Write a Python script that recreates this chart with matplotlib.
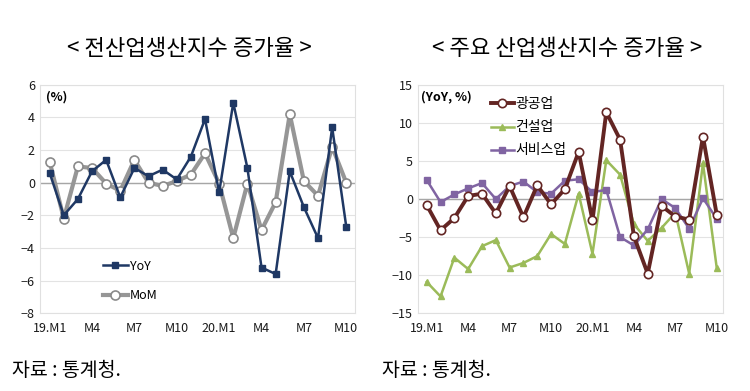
import matplotlib
matplotlib.use("Agg")
import matplotlib.pyplot as plt
import numpy as np

plt.rcParams['font.family'] = ['Noto Sans CJK KR', 'DejaVu Sans']

months = ["19.M1", "M2", "M3", "M4", "M5", "M6", "M7", "M8", "M9", "M10", "M11", "M12",
          "20.M1", "M2", "M3", "M4", "M5", "M6", "M7", "M8", "M9", "M10"]
tick_idx = [0, 3, 6, 9, 12, 15, 18, 21]

# left panel: all-industry production index
yoy = [0.6, -2.0, -1.0, 0.7, 1.4, -0.9, 0.9, 0.4, 0.8, 0.2, 1.6, 3.9,
       -0.6, 4.9, 0.9, -5.2, -5.6, 0.7, -1.5, -3.4, 3.4, -2.7]
mom = [1.3, -2.2, 1.0, 0.9, -0.05, -0.5, 1.4, 0.0, -0.2, 0.1, 0.5, 1.8,
       -0.05, -3.4, -0.05, -2.9, -1.2, 4.2, 0.1, -0.8, 2.2, 0.0]

# right panel: main industries (YoY)
mining = [-0.8, -4.1, -2.5, 0.4, 0.7, -1.9, 1.7, -2.4, 1.8, -0.7, 1.3, 6.2,
          -2.8, 11.4, 7.8, -4.9, -9.8, -0.9, -2.3, -2.7, 8.2, -2.1]
constr = [-10.9, -12.8, -7.7, -9.2, -6.2, -5.4, -9.0, -8.4, -7.5, -4.6, -5.9, 0.7,
          -7.2, 5.1, 3.2, -3.3, -5.5, -3.8, -1.8, -9.8, 4.7, -9.1]
service = [2.5, -0.4, 0.6, 1.4, 2.1, 0.0, 1.7, 2.3, 0.9, 0.7, 2.4, 2.6,
           0.9, 1.2, -5.0, -6.1, -4.0, 0.0, -1.2, -3.9, 0.1, -2.6]

x = np.arange(len(months))

fig = plt.figure(figsize=(7.5, 3.91), dpi=100)
ax1 = fig.add_axes([0.053, 0.199, 0.42, 0.584])
ax2 = fig.add_axes([0.557, 0.199, 0.407, 0.584])


def style(ax, ylim, step):
    ax.set_ylim(*ylim)
    ax.set_yticks(np.arange(ylim[0], ylim[1] + 0.1, step))
    ax.set_xticks(x[tick_idx])
    ax.set_xticklabels([months[i] for i in tick_idx])
    ax.grid(axis='y', color='#e3e3e3', linewidth=0.8)
    ax.axhline(0, color='#a6a6a6', linewidth=1, zorder=1)
    ax.set_axisbelow(True)
    for s in ax.spines.values():
        s.set_color('#e0e0e0')
        s.set_linewidth(0.8)
    ax.tick_params(length=0, labelsize=9, colors='#1a1a1a')
    ax.tick_params(axis='x', pad=6)


# left chart
ax1.plot(x, yoy, color='#1f3864', lw=1.8, marker='s', ms=5, label='YoY', zorder=4)
ax1.plot(x, mom, color='#969696', lw=3, marker='o', ms=6.5, mfc='white',
         mec='#8a8a8a', mew=1.2, label='MoM', zorder=3)
style(ax1, (-8, 6), 2)
ax1.set_xlim(-0.7, 21.6)
ax1.text(0.02, 0.975, '(%)', transform=ax1.transAxes, fontsize=9, fontweight='bold',
         va='top', ha='left')
ax1.legend(loc='lower left', bbox_to_anchor=(0.165, 0.0), frameon=False, fontsize=9,
           handlelength=2.0, handletextpad=0.15, labelspacing=1.3)

# right chart
ax2.plot(x, mining, color='#632523', lw=2.8, marker='o', ms=6, mfc='white',
         mec='#632523', mew=1.2, label='광공업', zorder=5)
ax2.plot(x, constr, color='#9bbb59', lw=1.8, marker='^', ms=5, label='건설업', zorder=3)
ax2.plot(x, service, color='#8064a2', lw=1.8, marker='s', ms=4.5, label='서비스업', zorder=4)
style(ax2, (-15, 15), 5)
ax2.set_xlim(-0.65, 21.45)
ax2.text(0.01, 0.975, '(YoY, %)', transform=ax2.transAxes, fontsize=9, fontweight='bold',
         va='top', ha='left')
ax2.legend(loc='upper left', bbox_to_anchor=(0.2, 1.0), frameon=False, fontsize=10,
           handlelength=1.6, handletextpad=0.15, labelspacing=0.65)

fig.text(0.253, 0.877, '< 전산업생산지수 증가율 >', ha='center', va='center',
         fontsize=16, fontweight='medium')
fig.text(0.756, 0.877, '< 주요 산업생산지수 증가율 >', ha='center', va='center',
         fontsize=16, fontweight='medium')
fig.text(0.016, 0.053, '자료 : 통계청.', ha='left', va='center', fontsize=14)
fig.text(0.51, 0.053, '자료 : 통계청.', ha='left', va='center', fontsize=14)

fig.savefig('out.png', dpi=100)
